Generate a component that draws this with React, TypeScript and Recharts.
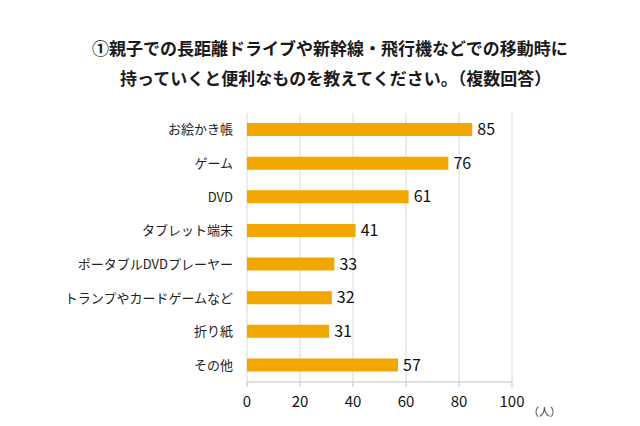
import { BarChart, Bar, XAxis, YAxis, CartesianGrid, LabelList } from 'recharts'

const CATEGORIES = ['お絵かき帳', 'ゲーム', 'DVD', 'タブレット端末', 'ポータブルDVDプレーヤー', 'トランプやカードゲームなど', '折り紙', 'その他']
const VALUES = [85, 76, 61, 41, 33, 32, 31, 57]
const X_TICKS = [0, 20, 40, 60, 80, 100]
const BAND_TICKS = [0, 1, 2, 3, 4, 5, 6, 7, 8]
const TITLE_1 = '①親子での長距離ドライブや新幹線・飛行機などでの移動時に'
const TITLE_2 = '持っていくと便利なものを教えてください。（複数回答）'
const UNIT = '（人）'

const BAR = '#F1A700'
const AXIS = '#BFBFBF'
const GRID = '#D9D9D9'
const FONT = '"Noto Sans CJK JP", "Noto Sans", sans-serif'

const data = CATEGORIES.map((c, i) => ({ c, v: VALUES[i] }))

export default function App() {
  return (
    <div style={{ position: 'absolute', left: 0, top: 0, width: 640, height: 426, background: '#fff', fontFamily: FONT }}>
      <div style={{ position: 'absolute', left: 92, top: 36, fontSize: 17, fontWeight: 700, color: '#1a1a1a', whiteSpace: 'nowrap', lineHeight: '24px' }}>{TITLE_1}</div>
      <div style={{ position: 'absolute', left: 120, top: 66, fontSize: 17, fontWeight: 700, color: '#1a1a1a', whiteSpace: 'nowrap', lineHeight: '24px' }}>{TITLE_2}</div>
      <div style={{ position: 'absolute', left: 528, top: 403, fontSize: 11, color: '#333', whiteSpace: 'nowrap' }}>{UNIT}</div>
      <BarChart
        width={640}
        height={426}
        data={data}
        layout="vertical"
        margin={{ top: 113, right: 128, left: 47, bottom: 14 }}
        style={{ position: 'absolute', left: 0, top: 0 }}
      >
        <CartesianGrid horizontal={false} stroke={GRID} />
        <XAxis
          type="number"
          domain={[0, 100]}
          ticks={X_TICKS}
          interval={0}
          height={30}
          stroke={AXIS}
          tickSize={5}
          tickMargin={9}
          tick={{ fontSize: 15, fill: '#111', fontFamily: FONT }}
        />
        <YAxis
          yAxisId="cat"
          type="category"
          dataKey="c"
          width={200}
          axisLine={false}
          tickLine={false}
          tickMargin={8}
          tick={{ fontSize: 13, fill: '#222', fontFamily: FONT }}
        />
        <YAxis
          yAxisId="band"
          type="number"
          domain={[0, 8]}
          ticks={BAND_TICKS}
          interval={0}
          reversed
          width={0}
          stroke={AXIS}
          tickSize={5}
          tick={false}
        />
        <Bar yAxisId="cat" dataKey="v" fill={BAR} barSize={13} isAnimationActive={false}>
          <LabelList dataKey="v" position="right" offset={5} fill="#111" fontSize={16} fontFamily={FONT} />
        </Bar>
      </BarChart>
    </div>
  )
}
